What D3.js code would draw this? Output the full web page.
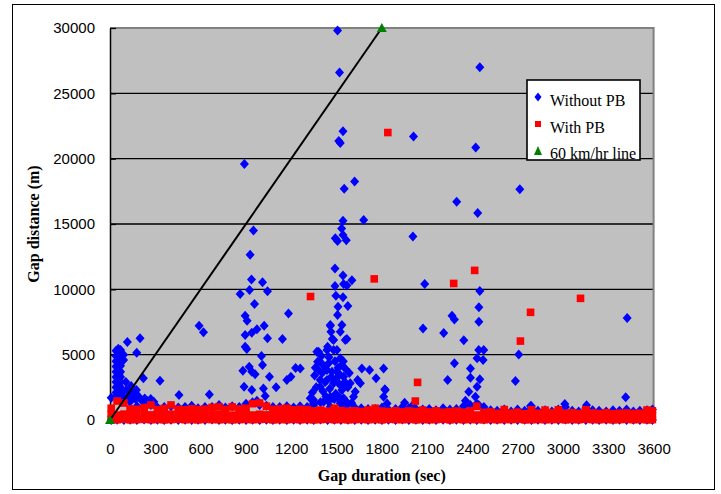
<!DOCTYPE html>
<html>
<head>
<meta charset="utf-8">
<script src="https://cdn.jsdelivr.net/npm/d3@7"></script>
<style>
  body { margin: 0; background: #fff; }
  svg { display: block; }
</style>
</head>
<body>
<svg id="chart" width="721" height="494"></svg>
<script>
// ---- data (seconds, metres) ----
const xTicks = [0, 300, 600, 900, 1200, 1500, 1800, 2100, 2400, 2700, 3000, 3300, 3600];
const yTicks = [0, 5000, 10000, 15000, 20000, 25000, 30000];
const seriesNames = ['Without PB', 'With PB', '60 km/hr line'];

// scattered gaps without PB
const withoutPB = [
  [1507,29800],[1520,26600],[2449,27000],[1543,22100],[1525,21200],[1515,21350],[2010,21700],[2422,20850],
  [890,19600],[1620,18250],[1551,17700],[2296,16700],[2714,17650],[2435,15850],[1680,15300],[1543,15250],
  [950,14500],[1534,14650],[2006,14050],[1492,13900],[1507,13700],[1565,13750],[1543,14150],[928,12650],
  [1490,11600],[1543,11050],[937,10750],[1010,10550],[924,9950],[1043,9850],[862,9650],[1490,10250],
  [1547,10400],[1569,10300],[1602,10700],[2084,10400],[2449,9870],[1496,9500],[1543,9400],[3425,7800],
  [957,8870],[1182,8160],[895,7980],[908,7600],[1021,7210],[973,6940],[939,6680],[895,6500],[1043,6250],
  [1142,6200],[895,5600],[906,5430],[1003,4900],[1010,4210],[922,4080],[939,3700],[880,3770],[961,3500],
  [1229,3980],[1198,3310],[1171,3060],[1056,3310],[1100,2500],[888,2550],[939,2300],[1016,2420],[1028,1840],
  [973,1480],[590,7210],[619,6710],[115,5970],[199,6250],[177,5150],[221,3190],[331,3010],[457,1910],[658,1960],
  [1510,8670],[1575,8720],[1507,8030],[1536,7270],[1459,7210],[2443,8620],[2443,7520],[2265,7980],[2281,7700],
  [2073,7010],[2210,6650],[2343,6100],[1463,6750],[1472,6200],[1569,6200],[1558,6120],[1441,5610],[2707,5020],
  [2442,5360],[2475,5360],[2431,4720],[2471,4590],[2281,4340],[2387,3950],[2387,3240],[2236,3060],[2685,2980],
  [2449,3110],[2431,2550],[2376,2170],[2354,1480],[2420,1780],[2442,1150],[2785,1070],[1951,1320],[2006,1150],
  [3415,1740],[3012,1220],[2790,1070],[3156,1120],[1820,2350],[1835,1270],
  [1370,5220],[1375,4460],[1381,3830],[1392,3060],[1366,2500],[1326,1660],[1348,1270],[1437,5360],[1448,4340],
  [1470,3700],[1481,2810],[1437,3060],[1470,1660],[1459,1020],[1503,5360],[1525,4720],[1536,4210],[1547,3310],
  [1514,2810],[1536,2300],[1547,1660],[1525,1280],[1558,1020],[1591,2810],[1613,1780],[1640,3060],[1658,2810],
  [1624,2170],[1668,3950],[1719,3830],[1812,3950],[1762,3190],[1823,2300],[1812,1780],[1260,3950],
  [1381,5220],[1481,5360],[1459,7270],[1525,6750],[1481,6120],[1392,4460],[1437,3830],[1503,3700],[1481,3060],
  [1392,2550],[1459,1780],[1525,1530],[1348,1530],
  [1340,2100],[1355,3400],[1360,4000],[1400,4900],[1405,3600],[1410,2200],[1415,1400],[1420,4100],[1425,2900],
  [1430,1800],[1450,4800],[1455,2400],[1465,3300],[1490,4500],[1495,2000],[1500,3200],[1510,4000],[1515,1800],
  [1520,3500],[1530,2600],[1545,4500],[1555,2900],[1560,3900],[1565,1400],[1575,2500],[1585,3600],[1600,1300],
  // cluster of very short gaps at the left edge
  [40,5300],[40,4900],[40,4500],[40,4100],[40,3700],[40,3300],[40,2900],[40,2500],[40,2100],[40,1700],
  [70,5350],[70,4950],[70,4550],[70,4150],[70,3700],[70,3300],[70,2900],[70,2500],[70,2100],[70,1700],
  [90,5000],[90,4600],[105,2900],[140,2600],[175,2300],[110,2300],[150,2000],[190,1800],[230,1650],[270,1600],
  [55,5450],[60,3500],[55,2700],[50,1900],[90,1800],[130,1700],[170,1600],[210,1500],[250,1450],[290,1400]
];

// scattered gaps with PB
const withPB = [
  [1840,22000],[1750,10800],[2276,10450],[2415,11450],[1328,9450],[2785,8240],[2718,6040],
  [2037,2880],[2022,1450],[3116,9310]
];

// 60 km/hr reference
const speedLine = [[0,0],[1800,30000]];

// dense band of short gaps along the bottom
const bandSec = [
  8, 47, 92, 133, 178, 226, 271, 314, 359,
  404, 452, 497, 541, 583, 629, 676, 722, 764,
  809, 856, 901, 944, 991, 1036, 1079, 1124, 1171,
  1216, 1259, 1306, 1349, 1394, 1441, 1486, 1529, 1576,
  1621, 1664, 1709, 1756, 1801, 1844, 1891, 1936, 1979,
  2026, 2071, 2114, 2159, 2206, 2251, 2294, 2341, 2386,
  2429, 2476, 2521, 2564, 2611, 2656, 2699, 2746, 2791,
  2834, 2881, 2926, 2969, 3016, 3061, 3104, 3151, 3196,
  3239, 3286, 3331, 3374, 3421, 3466, 3509, 3556, 3592
];
const withoutPBBase = [
  0, 20, 0, 10, 0, 30, 0, 10, 0,
  10, 0, 20, 0, 10, 0, 30, 0, 10,
  0, 20, 0, 10, 0, 20, 0, 10, 0,
  20, 0, 10, 0, 30, 0, 10, 0, 20,
  0, 10, 0, 20, 0, 10, 0, 30, 0,
  10, 0, 20, 0, 10, 0, 20, 0, 10,
  0, 30, 0, 10, 0, 20, 0, 10, 0,
  20, 0, 10, 0, 30, 0, 10, 0, 20,
  0, 10, 0, 20, 0, 10, 0, 20, 0
];
const withoutPBRidge = [
  1700, 2000, 1600, 1400, 1050, 1000, 1150, 950, 1000,
  1050, 950, 1000, 1100, 900, 1000, 1000, 1150, 950,
  1050, 1000, 1250, 1350, 1150, 1100, 1000, 1000, 1050,
  950, 1050, 1000, 1150, 1350, 1500, 1600, 1400, 1250,
  950, 900, 850, 850, 950, 800, 850, 1000, 900,
  850, 800, 850, 750, 900, 800, 850, 1050, 1150,
  1250, 1000, 750, 700, 800, 650, 800, 700, 900,
  700, 750, 650, 800, 1000, 700, 650, 900, 750,
  700, 650, 750, 700, 800, 650, 700, 750, 800
];
const withPBLow = [
  40, 20, 60, 10, 30, 50, 20, 40, 10,
  30, 60, 20, 40, 10, 50, 30, 20, 40,
  10, 30, 50, 20, 40, 60, 10, 30, 20,
  50, 20, 40, 10, 30, 60, 20, 40, 10,
  30, 50, 20, 40, 10, 60, 30, 20, 50,
  10, 40, 20, 30, 60, 10, 50, 20, 40,
  30, 10, 50, 20, 40, 30, 60, 10, 20,
  40, 20, 30, 50, 10, 40, 20, 60, 30,
  20, 40, 10, 30, 50, 20, 40, 10, 30
];
const withPBMid = [
  420, 380, 450, 400, 360, 430, 390, 410, 370,
  440, 400, 380, 420, 360, 410, 390, 430, 400,
  370, 420, 400, 380, 440, 390, 410, 360, 420,
  400, 380, 430, 410, 370, 420, 390, 440, 380,
  410, 370, 400, 420, 380, 430, 360, 400, 390,
  420, 390, 370, 410, 400, 380, 430, 390, 410,
  380, 400, 420, 370, 410, 390, 400, 380, 420,
  390, 410, 380, 400, 370, 420, 390, 410, 380,
  400, 380, 420, 390, 410, 370, 400, 380, 410
];
const withPBTop = [
  900, 1450, 1300, 850, 820, 950, 1150, 800, 880,
  1150, 820, 780, 860, 800, 830, 960, 1000, 810,
  1000, 850, 900, 1250, 1300, 1050, 820, 850, 900,
  780, 820, 800, 700, 760, 680, 900, 720, 680,
  700, 650, 760, 900, 680, 640, 700, 620, 690,
  650, 760, 620, 700, 600, 640, 680, 600, 700,
  1050, 580, 620, 520, 800, 540, 600, 480, 780,
  520, 760, 560, 780, 520, 560, 500, 780, 540,
  500, 560, 480, 520, 540, 500, 520, 760, 700
];

// ---- drawing ----
const svg = d3.select('#chart');
const sansFont = 'Liberation Sans, Arial, sans-serif';
const serifFont = 'Liberation Serif, Times New Roman, serif';

const x = d3.scaleLinear().domain([0, 3600]).range([110, 653.6]);
const y = d3.scaleLinear().domain([0, 30000]).range([420, 28]);

// chart area border
svg.append('rect')
  .attr('x', 12.5).attr('y', 4.5).attr('width', 702).attr('height', 485)
  .attr('fill', '#fff').attr('stroke', '#000').attr('stroke-width', 1);

// plot area
svg.append('rect')
  .attr('x', x(0)).attr('y', y(30000))
  .attr('width', x(3600) - x(0)).attr('height', y(0) - y(30000))
  .attr('fill', '#C0C0C0');

// gridlines
svg.append('g').selectAll('line')
  .data(yTicks.filter(v => v > 0 && v < 30000))
  .join('line')
  .attr('x1', x(0)).attr('x2', x(3600))
  .attr('y1', d => y(d)).attr('y2', d => y(d))
  .attr('stroke', '#000').attr('stroke-width', 1.3);

// plot border top/right
svg.append('path')
  .attr('d', `M${x(0)},${y(30000)}H${x(3600)}V${y(0)}`)
  .attr('fill', 'none').attr('stroke', '#808080').attr('stroke-width', 2);

// axes
const gy = svg.append('g').attr('transform', `translate(${x(0)},0)`)
  .call(d3.axisLeft(y).tickValues(yTicks).tickFormat(d3.format('d'))
    .tickSizeInner(-6).tickSizeOuter(0).tickPadding(15));
gy.select('.domain').attr('stroke', '#000').attr('stroke-width', 1.5);
gy.selectAll('.tick line').attr('stroke', '#000').attr('stroke-width', 1.3);
gy.selectAll('text').attr('font-family', sansFont).attr('font-size', 15).attr('fill', '#000');

const gx = svg.append('g').attr('transform', `translate(0,${y(0)})`)
  .call(d3.axisBottom(x).tickValues(xTicks).tickFormat(d3.format('d'))
    .tickSize(0).tickPadding(23));
gx.select('.domain').attr('stroke', '#000').attr('stroke-width', 1);
gx.selectAll('text').attr('font-family', sansFont).attr('font-size', 15).attr('fill', '#000');

// axis titles
svg.append('text')
  .attr('x', (x(0) + x(3600)) / 2).attr('y', 481)
  .attr('text-anchor', 'middle')
  .attr('font-family', serifFont).attr('font-weight', 'bold').attr('font-size', 16)
  .text('Gap duration (sec)');
svg.append('text')
  .attr('transform', `translate(39,${(y(0) + y(30000)) / 2}) rotate(-90)`)
  .attr('text-anchor', 'middle')
  .attr('font-family', serifFont).attr('font-weight', 'bold').attr('font-size', 16)
  .text('Gap distance (m)');

// markers
const diamond = 'M0,-5L4.5,0L0,5L-4.5,0Z';
const triangle = 'M0,-5L5,4L-5,4Z';

const bluePts = bandSec.map((s, i) => [s, withoutPBBase[i]])
  .concat(bandSec.map((s, i) => [s, withoutPBRidge[i]]))
  .concat(withoutPB);
const redPts = bandSec.map((s, i) => [s, withPBLow[i]])
  .concat(bandSec.map((s, i) => [s, withPBMid[i]]))
  .concat(bandSec.map((s, i) => [s, withPBTop[i]]))
  .concat(withPB);

svg.append('g').selectAll('path').data(bluePts).join('path')
  .attr('d', diamond)
  .attr('transform', d => `translate(${x(d[0])},${y(d[1])})`)
  .attr('fill', '#0000FF');

svg.append('g').selectAll('rect').data(redPts).join('rect')
  .attr('x', d => x(d[0]) - 3.8).attr('y', d => y(d[1]) - 3.8)
  .attr('width', 7.6).attr('height', 7.6)
  .attr('fill', '#FF0000');

svg.append('path')
  .datum(speedLine)
  .attr('d', d3.line().x(d => x(d[0])).y(d => y(d[1])))
  .attr('fill', 'none').attr('stroke', '#000').attr('stroke-width', 2);
svg.append('g').selectAll('path').data(speedLine).join('path')
  .attr('d', triangle)
  .attr('transform', d => `translate(${x(d[0])},${y(d[1])})`)
  .attr('fill', '#008000');

// legend
const lg = svg.append('g');
lg.append('rect')
  .attr('x', 527).attr('y', 80).attr('width', 113).attr('height', 80)
  .attr('fill', '#fff').attr('stroke', '#000').attr('stroke-width', 1.6);
const items = lg.selectAll('g.item').data(seriesNames).join('g')
  .attr('class', 'item')
  .attr('transform', (d, i) => `translate(538,${97 + i * 27})`);
items.each(function (d, i) {
  const g = d3.select(this);
  if (i === 0) g.append('path').attr('d', 'M0,-4.5L3.5,0L0,4.5L-3.5,0Z').attr('fill', '#0000FF');
  if (i === 1) g.append('rect').attr('x', -3).attr('y', -3).attr('width', 6).attr('height', 6).attr('fill', '#FF0000');
  if (i === 2) g.append('path').attr('d', 'M0,-5L4,4L-4,4Z').attr('fill', '#008000');
});
items.append('text')
  .attr('x', 12).attr('y', (d, i) => 9 - (i === 2 ? 1 : 0))
  .attr('font-family', serifFont).attr('font-size', 16)
  .text(d => d);
</script>
</body>
</html>
